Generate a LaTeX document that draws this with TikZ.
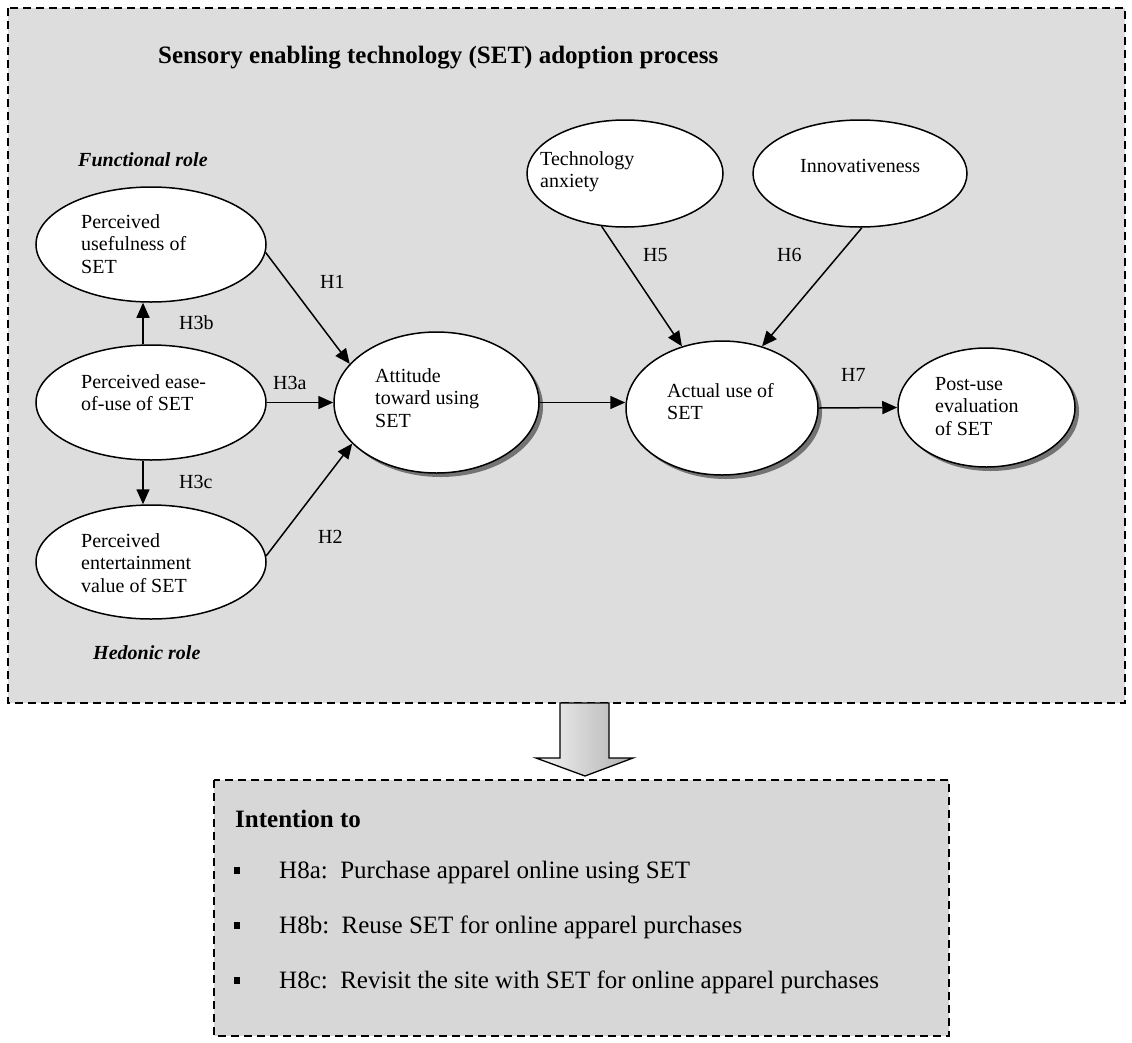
\documentclass[tikz,border=0pt]{standalone}
\usepackage{fontspec}
\setmainfont{Liberation Serif}
\usetikzlibrary{arrows.meta,shapes.geometric,shadows}
\definecolor{outerfill}{RGB}{221,221,221}
\definecolor{innerfill}{RGB}{215,215,215}
\begin{document}
\begin{tikzpicture}[x=1pt,y=-1pt,
  ell/.style={ellipse, draw, line width=1.5pt, fill=white, inner sep=0pt},
  shd/.style={drop shadow={shadow xshift=4pt, shadow yshift=-4pt, fill=black!55, opacity=1}},
  txt/.style={inner sep=0pt, anchor=base west, align=left, font=\fontsize{20}{22.7}\selectfont},
  itm/.style={inner sep=0pt, anchor=base west, font=\fontsize{25}{28}\selectfont},
  lab/.style={inner sep=0pt, anchor=west, font=\fontsize{20}{22.7}\selectfont},
  arr/.style={line width=1.5pt, -{Triangle[length=15pt,width=13pt]}},
  dbox/.style={draw, line width=1.6pt, dash pattern=on 8pt off 5pt}]
\useasboundingbox (0,0) rectangle (1132,1042);

% outer process box
\draw[dbox, fill=outerfill] (8,8) rectangle (1125,703);
% block arrow
\draw[line width=1.3pt, left color=gray!8, right color=gray!62]
  (560,703) -- (609,703) -- (609,758) -- (633,758) -- (585,776) -- (536,758) -- (560,758) -- cycle;
% lower box
\draw[dbox, fill=innerfill] (214,780) rectangle (949,1036);

% ellipses
\node[ell, minimum width=230pt, minimum height=115pt] (PU) at (151,244.5) {};
\node[ell, minimum width=230pt, minimum height=115pt] (PEOU) at (151,402.5) {};
\node[ell, minimum width=230pt, minimum height=114pt] (PEV) at (151,562) {};
\node[ell, shd, minimum width=205pt, minimum height=141pt] (ATT) at (436.5,402.5) {};
\node[ell, shd, minimum width=192pt, minimum height=134pt] (USE) at (722,408) {};
\node[ell, shd, minimum width=177pt, minimum height=119pt] (POST) at (986.5,407.5) {};
\node[ell, minimum width=196pt, minimum height=107pt] (TA) at (625,173.5) {};
\node[ell, minimum width=214pt, minimum height=107pt] (INN) at (860,173.5) {};

% ellipse texts (anchor = baseline of last line)
\node[txt] (PUt) at (81,273.4) {Perceived\\usefulness of\\SET};
\node[txt] (PEOUt) at (81,410.7) {Perceived ease-\\of-use of SET};
\node[txt] (PEVt) at (81,592.4) {Perceived\\entertainment\\value of SET};
\node[txt] (ATTt) at (375,427.4) {Attitude\\toward using\\SET};
\node[txt] (USEt) at (667,419.7) {Actual use of\\SET};
\node[txt] (POSTt) at (935,435.4) {Post-use\\evaluation\\of SET};
\node[txt] (TAt) at (540,187.7) {Technology\\anxiety};
\node[txt] (INNt) at (800,172) {Innovativeness};

% connectors
\draw[arr] (PU.356) -- (ATT.156);
\draw[arr] (PEOU.east) -- (ATT.west);
\draw[arr] (PEV.3.5) -- (ATT.206);
\draw[arr] ([xshift=-8pt]PEOU.north) -- ([xshift=-8pt]PU.south);
\draw[arr] ([xshift=-8pt]PEOU.south) -- ([xshift=-8pt]PEV.north);
\draw[arr] (ATT.east) -- (ATT.east -| USE.west);
\draw[arr] (TA.246) -- (USE.123.7);
\draw[arr] (INN.272) -- (USE.57.6);
\draw[arr] (USE.east) -- (POST.west);

% labels
\node[lab] (H1) at (320,282) {H1};
\node[lab] (H3b) at (179,323) {H3b};
\node[lab] (H3a) at (273,383) {H3a};
\node[lab] (H3c) at (179,482) {H3c};
\node[lab] (H2) at (318,537) {H2};
\node[lab] (H5) at (643,255) {H5};
\node[lab] (H6) at (777,255) {H6};
\node[lab] (H7) at (841,375) {H7};
\node[lab, font=\fontsize{20}{22.7}\selectfont\bfseries\itshape] (func) at (78,160) {Functional role};
\node[lab, font=\fontsize{20}{22.7}\selectfont\bfseries\itshape] (hed) at (93,653) {Hedonic role};

% title
\node[inner sep=0pt, anchor=base west, font=\fontsize{25}{28}\selectfont\bfseries] (title) at (158,63)
  {Sensory enabling technology (SET) adoption process};

% lower box text
\node[inner sep=0pt, anchor=base west, font=\fontsize{25}{28}\selectfont\bfseries] (intent) at (235,827) {Intention to};
\node[itm] (H8a) at (234,878) {\makebox[45pt][l]{\rule[4.5pt]{6pt}{7pt}}H8a:\ \ Purchase apparel online using SET};
\node[itm] (H8b) at (234,933) {\makebox[45pt][l]{\rule[4.5pt]{6pt}{7pt}}H8b:\ \ Reuse SET for online apparel purchases};
\node[itm] (H8c) at (234,988) {\makebox[45pt][l]{\rule[4.5pt]{6pt}{7pt}}H8c:\ \ Revisit the site with SET for online apparel purchases};
\end{tikzpicture}
\end{document}
